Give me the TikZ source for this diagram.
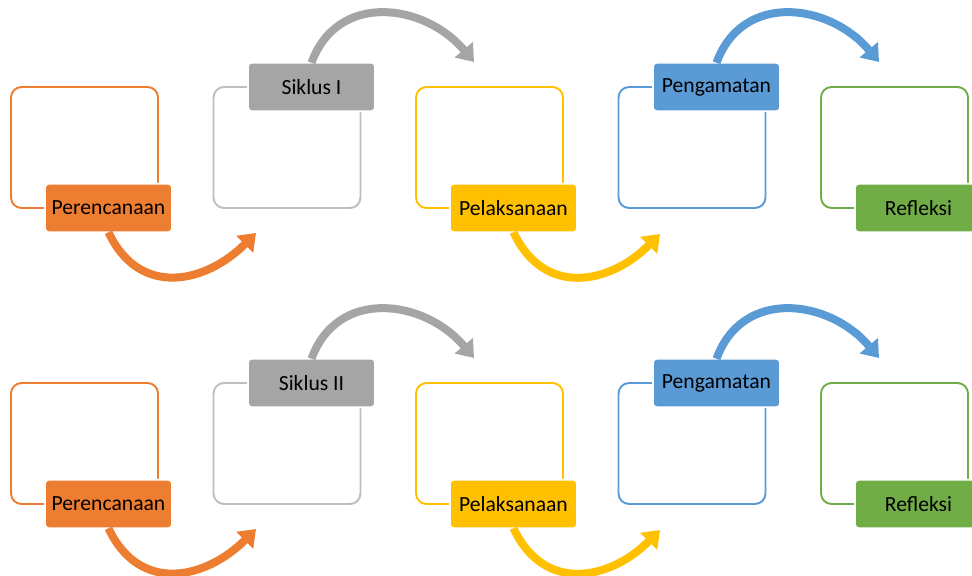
\documentclass[tikz,border=0pt]{standalone}
\usepackage{fontspec}
\setmainfont{Carlito}
\usepackage{tikz}
\usetikzlibrary{arrows.meta}
\definecolor{siOrange}{HTML}{ED7D31}
\definecolor{siGray}{HTML}{A5A5A5}
\definecolor{siGrayL}{HTML}{BFBFBF}
\definecolor{siYellow}{HTML}{FFC000}
\definecolor{siBlue}{HTML}{5B9BD5}
\definecolor{siGreen}{HTML}{70AD47}

\begin{document}
\begin{tikzpicture}[x=0.02cm,y=0.02cm,
  kotak/.style={draw=#1,line width=1.1pt,rounded corners=6pt,outer sep=0pt,inner sep=0pt,
    minimum width=2.94cm,minimum height=2.42cm},
  tahap/.style={fill=#1,draw=white,line width=1.1pt,rounded corners=2pt,outer sep=0pt,inner sep=0pt,
    minimum width=2.54cm,minimum height=0.97cm,font=\fontsize{12.3}{14}\selectfont},
  panah/.style={draw=#1,line width=0.16cm,-{Triangle[width=0.46cm,length=0.32cm]}}]
\useasboundingbox (0,0) rectangle (972,575);
\foreach \r/\s/\n in {0/I/a,-296/II/b}{
\begin{scope}[shift={(0,\r)}]
\node[kotak=siOrange] (k1\n) at (84.5,427.5) {};
\node[kotak=siGrayL] (k2\n) at (287,427.5) {};
\node[kotak=siYellow] (k3\n) at (489.5,427.5) {};
\node[kotak=siBlue] (k4\n) at (692,427.5) {};
\node[kotak=siGreen] (k5\n) at (894.5,427.5) {};
\node[tahap=siOrange] (t1\n) at ([xshift=0.48cm]k1\n.south) {Perencanaan};
\node[tahap=siGray] (t2\n) at ([xshift=0.49cm]k2\n.north) {Siklus \s};
\node[tahap=siYellow] (t3\n) at ([xshift=0.48cm]k3\n.south) {Pelaksanaan};
\node[tahap=siBlue] (t4\n) at ([xshift=0.49cm]k4\n.north) {Pengamatan};
\node[tahap=siGreen] (t5\n) at ([xshift=0.48cm]k5\n.south) {Refleksi};
\coordinate (p1\n) at (256,342);
\coordinate (p2\n) at (474,513);
\coordinate (p3\n) at (660,341);
\coordinate (p4\n) at (879,513);
\draw[panah=siOrange] (t1\n.south) to[out=-65,in=-135,looseness=1.25] (p1\n);
\draw[panah=siGray] (t2\n.north) to[out=70,in=130,looseness=1.2] (p2\n);
\draw[panah=siYellow] (t3\n.south) to[out=-65,in=-135,looseness=1.25] (p3\n);
\draw[panah=siBlue] (t4\n.north) to[out=70,in=130,looseness=1.2] (p4\n);
\end{scope}}
\end{tikzpicture}
\end{document}
